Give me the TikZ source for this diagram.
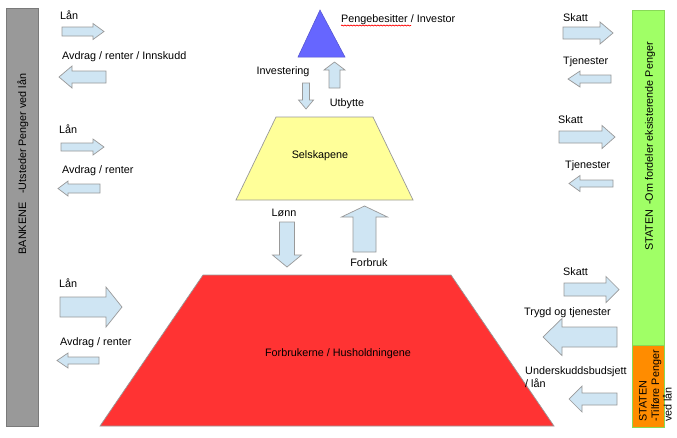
\documentclass[tikz,border=0pt]{standalone}
\usepackage{fontspec}
\setmainfont{Liberation Sans}
\usetikzlibrary{decorations.pathmorphing}
\definecolor{arrowfill}{HTML}{CFE5F3}
\definecolor{edgegray}{HTML}{999999}
\definecolor{bankgray}{HTML}{999999}
\definecolor{stategreen}{HTML}{A0FF66}
\definecolor{stateorange}{HTML}{FF8C00}
\definecolor{invblue}{HTML}{6666FF}
\definecolor{firmyellow}{HTML}{FFFF99}
\definecolor{hhred}{HTML}{FF3333}
\tikzset{
  blockarrow/.style={draw=edgegray, fill=arrowfill, line width=0.7pt, line join=miter},
  lbl/.style={inner sep=0pt, anchor=west, align=left},
  clbl/.style={inner sep=0pt},
  every node/.style={font=\fontsize{10.8}{12.5}\selectfont},
  shapeedge/.style={draw=edgegray, line width=0.7pt}
}
% horizontal block arrow: tail x, head-base x, tip x, centre y, shaft half, head half
\newcommand\harrow[6]{\draw[blockarrow] (#1,{#4-#5}) -- (#2,{#4-#5}) -- (#2,{#4-#6}) -- (#3,#4) -- (#2,{#4+#6}) -- (#2,{#4+#5}) -- (#1,{#4+#5}) -- cycle;}
% vertical block arrow: tail y, head-base y, tip y, centre x, shaft half, head half
\newcommand\varrow[6]{\draw[blockarrow] ({#4-#5},#1) -- ({#4-#5},#2) -- ({#4-#6},#2) -- (#4,#3) -- ({#4+#6},#2) -- ({#4+#5},#2) -- ({#4+#5},#1) -- cycle;}
\begin{document}
\begin{tikzpicture}[x=1pt,y=-1pt]
\useasboundingbox[fill=white] (0,0) rectangle (677,437);

% side bars
\filldraw[fill=bankgray, draw=edgegray!80!black, line width=0.6pt] (6,8) rectangle (38,426);
\node[clbl, rotate=90] (bank) at (23,164) {BANKENE\hspace{9pt}-Utsteder Penger ved lån};
\filldraw[fill=stategreen, draw=stategreen!85!black, line width=0.6pt] (632,10) rectangle (664,345);
\node[clbl, rotate=90] (staten1) at (650,146.5) {STATEN\hspace{5pt}-Om fordeler eksisterende Penger};
\filldraw[fill=stateorange, draw=stategreen!85!black, line width=0.6pt] (632,345) rectangle (664,427);
\node[inner sep=0pt, rotate=90, anchor=west, align=left] (staten2) at (655.5,422) {STATEN\\-Tilføre Penger\\ved lån};

% investor triangle
\filldraw[fill=invblue, draw=invblue!80!black, line width=0.5pt] (320,10) -- (345,57) -- (298,57) -- cycle;
\node[lbl] (penge) at (341,20) {Pengebesitter / Investor};
\draw[red, line width=0.7pt, decorate, decoration={snake, amplitude=0.5pt, segment length=3pt}] (341,25.5) -- (411,25.5);

% companies trapezoid
\filldraw[fill=firmyellow, shapeedge] (276,117) -- (373,117) -- (413,200) -- (236,200) -- cycle;
\node[clbl] (selskap) at (320,156) {Selskapene};

% households trapezoid
\filldraw[fill=hhred, shapeedge] (203,275) -- (451,275) -- (554,426) -- (100,426) -- cycle;
\node[clbl] (hush) at (338,354) {Forbrukerne / Husholdningene};

% vertical arrows
\varrow{83}{100}{109}{306}{3.5}{7.5}
\node[clbl] (inv) at (283,72) {Investering};
\varrow{88}{70}{62}{334.5}{5.5}{10.5}
\node[clbl] (utb) at (347,104) {Utbytte};
\varrow{222}{255}{267}{287}{7.5}{14.5}
\node[clbl] (lonn) at (284,213) {Lønn};
\varrow{252}{217}{206}{364.5}{11.5}{23}
\node[clbl] (forbr) at (369,263) {Forbruk};

% left (bank) arrows
\harrow{62}{93}{104}{31.5}{4.5}{8}
\node[lbl] (lan1) at (60,15) {Lån};
\harrow{106}{72}{59}{77}{6}{11}
\node[lbl] (avd1) at (62,57) {Avdrag / renter / Innskudd};
\harrow{61}{93}{104}{147}{4}{8}
\node[lbl] (lan2) at (59,129) {Lån};
\harrow{100}{68}{58}{188.5}{4.5}{7.5}
\node[lbl] (avd2) at (62,171) {Avdrag / renter};
\harrow{60}{106}{122}{307}{10}{20}
\node[lbl] (lan3) at (59,283) {Lån};
\harrow{99}{68}{57}{360.5}{3.5}{7.5}
\node[lbl] (avd3) at (60,343) {Avdrag / renter};

% right (state) arrows
\harrow{563}{600}{613}{33}{6}{11}
\node[lbl] (skatt1) at (563,18) {Skatt};
\harrow{611}{580}{568}{79}{4}{8}
\node[lbl] (tjen1) at (563,62) {Tjenester};
\harrow{559}{602}{615}{137}{6}{11.5}
\node[lbl] (skatt2) at (558,120) {Skatt};
\harrow{613}{580}{569}{183.5}{3.5}{8}
\node[lbl] (tjen2) at (565,166) {Tjenester};
\harrow{564}{606}{619}{289.5}{6.5}{13}
\node[lbl] (skatt3) at (563,272) {Skatt};
\harrow{617}{562}{543}{337}{10}{18.5}
\node[lbl] (trygd) at (524,313) {Trygd og tjenester};
\harrow{617}{582}{569}{399}{6}{13}
\node[lbl] (under) at (525,377) {Underskuddsbudsjett\\/ lån};
\end{tikzpicture}
\end{document}
